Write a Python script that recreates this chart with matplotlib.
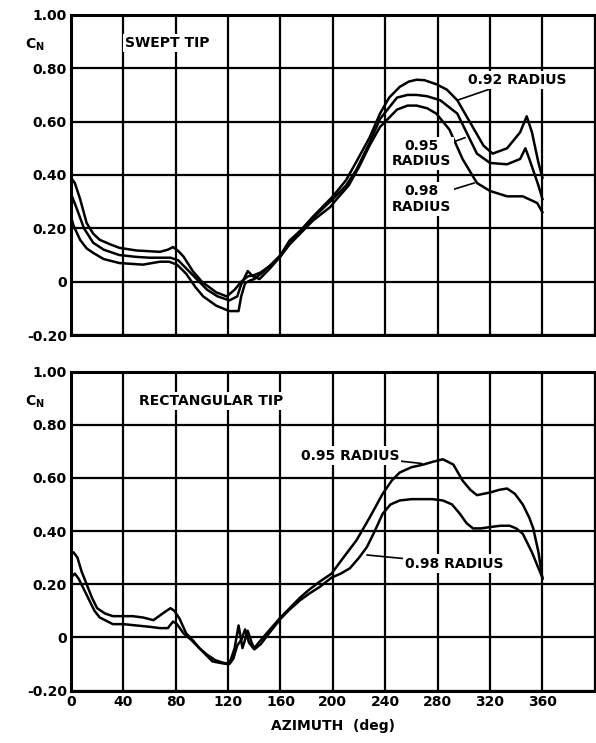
import numpy as np
import matplotlib
matplotlib.use('Agg')
import matplotlib.pyplot as plt

plt.rcParams['font.family'] = 'DejaVu Sans'
plt.rcParams['font.weight'] = 'bold'
plt.rcParams['mathtext.fontset'] = 'dejavusans'

# swept tip, three radial stations
sw92_az = [0, 3, 7, 12, 17, 22, 30, 37, 50, 68, 74, 78, 82, 86, 93, 100, 111, 119, 125, 130, 135, 140, 145,
           152, 160, 167, 175, 185, 200, 210, 218, 228, 236, 243, 251, 258, 264, 270, 279, 287, 295, 305, 315,
           322, 333, 343, 348, 352, 357, 360]
sw92_cn = [0.39, 0.37, 0.31, 0.22, 0.18, 0.157, 0.14, 0.127, 0.117, 0.112, 0.12, 0.13, 0.115, 0.094, 0.04,
           0.0, -0.04, -0.055, -0.03, 0.0, 0.02, 0.025, 0.035, 0.06, 0.10, 0.155, 0.19, 0.245, 0.32, 0.38,
           0.45, 0.54, 0.63, 0.69, 0.73, 0.75, 0.757, 0.755, 0.74, 0.72, 0.68, 0.595, 0.51, 0.48, 0.50, 0.56,
           0.62, 0.56, 0.445, 0.39]

sw95_az = [0, 4, 10, 17, 25, 37, 50, 60, 76, 82, 88, 96, 104, 112, 121, 127, 130, 135, 139, 144, 152, 160,
           167, 175, 185, 200, 210, 218, 228, 236, 249, 257, 264, 272, 282, 295, 302, 310, 320, 333, 343, 347,
           350, 357, 360]
sw95_cn = [0.33, 0.28, 0.20, 0.146, 0.12, 0.10, 0.093, 0.09, 0.09, 0.08, 0.05, 0.01, -0.03, -0.055, -0.07,
           -0.055, -0.01, 0.04, 0.02, 0.01, 0.05, 0.095, 0.15, 0.19, 0.24, 0.31, 0.36, 0.42, 0.52, 0.61, 0.69,
           0.70, 0.70, 0.695, 0.68, 0.63, 0.56, 0.48, 0.445, 0.44, 0.46, 0.50, 0.46, 0.36, 0.31]

sw98_az = [0, 2, 7, 12, 17, 25, 37, 55, 68, 75, 81, 88, 95, 101, 111, 121, 128, 130, 133, 137, 140, 145, 152,
           160, 167, 175, 185, 198, 203, 212, 220, 228, 236, 249, 257, 264, 272, 279, 289, 299, 310, 320, 333,
           345, 356, 360]
sw98_cn = [0.245, 0.21, 0.157, 0.125, 0.108, 0.085, 0.07, 0.064, 0.075, 0.075, 0.064, 0.03, -0.02, -0.055,
           -0.09, -0.11, -0.11, -0.055, -0.005, 0.005, 0.01, 0.03, 0.06, 0.095, 0.14, 0.18, 0.23, 0.28, 0.31,
           0.36, 0.43, 0.51, 0.58, 0.645, 0.66, 0.66, 0.65, 0.63, 0.57, 0.46, 0.37, 0.34, 0.32, 0.32, 0.295, 0.26]

# rectangular tip, two radial stations
re95_az = [0, 2, 5, 8, 12, 16, 20, 26, 32, 40, 47, 55, 63, 70, 76, 79, 83, 88, 93, 98, 103, 108, 113, 119,
           122, 125, 128, 131, 135, 138, 140, 145, 152, 160, 167, 175, 182, 190, 199, 208, 218, 228, 238, 245,
           251, 260, 269, 276, 284, 292, 299, 305, 310, 315, 320, 327, 333, 339, 345, 350, 353, 357, 360]
re95_cn = [0.32, 0.32, 0.30, 0.25, 0.20, 0.15, 0.11, 0.09, 0.08, 0.08, 0.08, 0.075, 0.065, 0.09, 0.11, 0.10,
           0.07, 0.015, -0.01, -0.04, -0.065, -0.09, -0.095, -0.10, -0.085, -0.04, 0.045, -0.04, 0.025, -0.02,
           -0.04, -0.01, 0.03, 0.075, 0.11, 0.15, 0.18, 0.21, 0.24, 0.30, 0.365, 0.45, 0.54, 0.59, 0.62, 0.64,
           0.65, 0.66, 0.67, 0.65, 0.59, 0.555, 0.535, 0.54, 0.545, 0.555, 0.56, 0.54, 0.50, 0.45, 0.41, 0.32, 0.22]

re98_az = [0, 1, 3, 6, 10, 14, 18, 22, 28, 32, 40, 50, 60, 68, 74, 78, 81, 86, 92, 98, 104, 110, 116, 121,
           124, 127, 130, 133, 136, 140, 145, 152, 160, 167, 175, 182, 190, 199, 206, 213, 220, 226, 232, 238,
           244, 251, 260, 269, 276, 284, 291, 297, 302, 307, 313, 320, 328, 335, 340, 345, 352, 357, 360]
re98_cn = [0.23, 0.23, 0.24, 0.22, 0.18, 0.14, 0.10, 0.075, 0.06, 0.05, 0.05, 0.045, 0.04, 0.035, 0.035, 0.06,
           0.05, 0.015, -0.01, -0.04, -0.065, -0.085, -0.095, -0.10, -0.08, -0.03, -0.01, 0.03, -0.02, -0.045,
           -0.025, 0.02, 0.07, 0.105, 0.14, 0.165, 0.19, 0.225, 0.24, 0.26, 0.30, 0.34, 0.40, 0.465, 0.50, 0.515,
           0.52, 0.52, 0.52, 0.515, 0.50, 0.465, 0.43, 0.41, 0.41, 0.415, 0.42, 0.42, 0.41, 0.39, 0.32, 0.26, 0.225]

yticks = [-0.2, 0.0, 0.2, 0.4, 0.6, 0.8, 1.0]
ytick_labels = ['-0.20', '0', '0.20', '0.40', '0.60', '0.80', '1.00']
xticks = [0, 40, 80, 120, 160, 200, 240, 280, 320, 360]

fig = plt.figure(figsize=(5.96, 7.43), dpi=100)
ax1 = fig.add_axes([0.119, 0.549, 0.879, 0.431])
ax2 = fig.add_axes([0.119, 0.0705, 0.879, 0.4295])

fs = 10
for ax in (ax1, ax2):
    ax.set_xlim(0, 400)
    ax.set_ylim(-0.2, 1.0)
    ax.set_xticks(np.arange(0, 401, 40))
    ax.set_yticks(yticks)
    ax.set_yticklabels(ytick_labels, fontsize=fs, fontweight='bold')
    ax.grid(True, color='black', linewidth=1.6)
    ax.set_axisbelow(True)
    ax.tick_params(length=0, pad=3)
    for s in ax.spines.values():
        s.set_linewidth(2.2)
    ax.text(-0.068, 0.905, r'$\mathbf{C}_\mathbf{N}$', transform=ax.transAxes,
            fontsize=fs, ha='center', va='center')

ax1.set_xticklabels([])
ax2.set_xticklabels([str(v) for v in xticks] + [''], fontsize=fs, fontweight='bold')
ax2.set_xlabel('AZIMUTH  (deg)', fontsize=fs, fontweight='bold', labelpad=7)

lw = 1.8
ax1.plot(sw92_az, sw92_cn, color='black', lw=lw)
ax1.plot(sw95_az, sw95_cn, color='black', lw=lw)
ax1.plot(sw98_az, sw98_cn, color='black', lw=lw)
ax2.plot(re95_az, re95_cn, color='black', lw=lw)
ax2.plot(re98_az, re98_cn, color='black', lw=lw)

box = dict(facecolor='white', edgecolor='none', pad=1.5)
ax1.text(41, 0.895, 'SWEPT TIP', fontsize=fs, fontweight='bold', ha='left', va='center', bbox=box)
ax2.text(52, 0.89, 'RECTANGULAR TIP', fontsize=fs, fontweight='bold', ha='left', va='center', bbox=box)

ax1.annotate('0.92 RADIUS', xy=(295, 0.68), xytext=(303, 0.757), fontsize=fs, fontweight='bold',
             ha='left', va='center', bbox=box,
             arrowprops=dict(arrowstyle='-', color='black', lw=1.2, shrinkA=0, shrinkB=0))
ax1.annotate('0.95\nRADIUS', xy=(301, 0.54), xytext=(268, 0.48), fontsize=fs, fontweight='bold',
             ha='center', va='center', linespacing=1.1, bbox=box,
             arrowprops=dict(arrowstyle='-', color='black', lw=1.2, shrinkA=0, shrinkB=0))
ax1.annotate('0.98\nRADIUS', xy=(308, 0.37), xytext=(268, 0.31), fontsize=fs, fontweight='bold',
             ha='center', va='center', linespacing=1.1, bbox=box,
             arrowprops=dict(arrowstyle='-', color='black', lw=1.2, shrinkA=0, shrinkB=0))

ax2.annotate('0.95 RADIUS', xy=(268, 0.654), xytext=(213, 0.684), fontsize=fs, fontweight='bold',
             ha='center', va='center', bbox=box,
             arrowprops=dict(arrowstyle='-', color='black', lw=1.2, shrinkA=0, shrinkB=0))
ax2.annotate('0.98 RADIUS', xy=(226, 0.31), xytext=(293, 0.278), fontsize=fs, fontweight='bold',
             ha='center', va='center', bbox=box,
             arrowprops=dict(arrowstyle='-', color='black', lw=1.2, shrinkA=0, shrinkB=0))

fig.savefig('out.png', dpi=100)
